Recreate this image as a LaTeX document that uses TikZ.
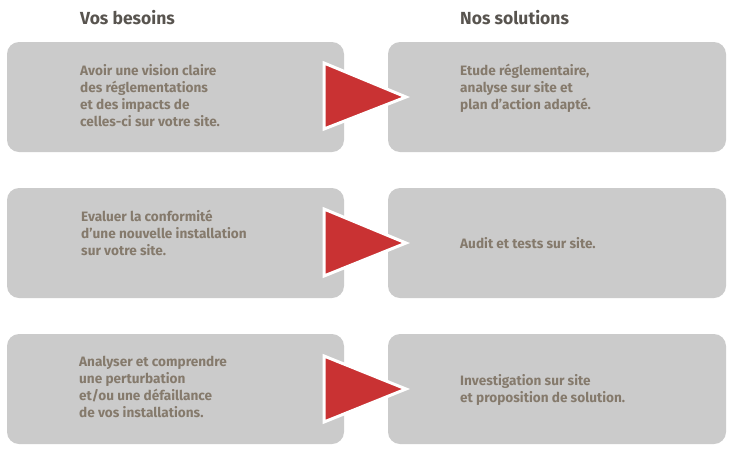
\documentclass[tikz,border=0pt]{standalone}
\usepackage{fontspec}
\setmainfont{Fira Sans}
\begin{document}
\begin{tikzpicture}[x=1pt,y=-1pt,
  box/.style={fill=boxgray,rounded corners=12pt},
  txt/.style={anchor=north west,inner sep=0pt,align=left,text=txtcol,font=\bfseries\fontsize{13.6}{17}\selectfont},
  head/.style={anchor=base west,inner sep=0pt,text=headcol,font=\bfseries\fontsize{17.5}{20}\selectfont},
  arrowtri/.style={fill=arrred,draw=white,line width=3pt,line join=miter}]
\definecolor{boxgray}{HTML}{CBCBCB}
\definecolor{txtcol}{HTML}{857A6C}
\definecolor{headcol}{HTML}{58544F}
\definecolor{arrred}{HTML}{C93233}
\useasboundingbox (0,0) rectangle (732,456);
\node[head] (h1) at (80,24) {Vos besoins};
\node[head] (h2) at (460,24) {Nos solutions};
% boxes
\path[box] (7,42) rectangle (344,152);
\path[box] (388,42) rectangle (726,152);
\path[box] (7,188) rectangle (344,298);
\path[box] (388,188) rectangle (726,298);
\path[box] (7,334) rectangle (344,444);
\path[box] (388,334) rectangle (726,444);
% arrows
\draw[arrowtri] (324,63) -- (406,97) -- (324,129) -- cycle;
\draw[arrowtri] (324,209) -- (406,243) -- (324,276) -- cycle;
\draw[arrowtri] (324,356) -- (406,389) -- (324,422) -- cycle;
% texts
\node[txt] (t1) at (80,64) {Avoir une vision claire\\des réglementations\\et des impacts de\\celles-ci sur votre site.};
\node[txt] (s1) at (460,64) {Etude réglementaire,\\analyse sur site et\\plan d’action adapté.};
\node[txt] (t2) at (81,210) {Evaluer la conformité\\d’une nouvelle installation\\sur votre site.};
\node[txt] (s2) at (460,237) {Audit et tests sur site.};
\node[txt] (t3) at (79,356) {Analyser et comprendre\\une perturbation\\et/ou une défaillance\\de vos installations.};
\node[txt] (s3) at (460,374) {Investigation sur site\\et proposition de solution.};
\end{tikzpicture}
\end{document}
